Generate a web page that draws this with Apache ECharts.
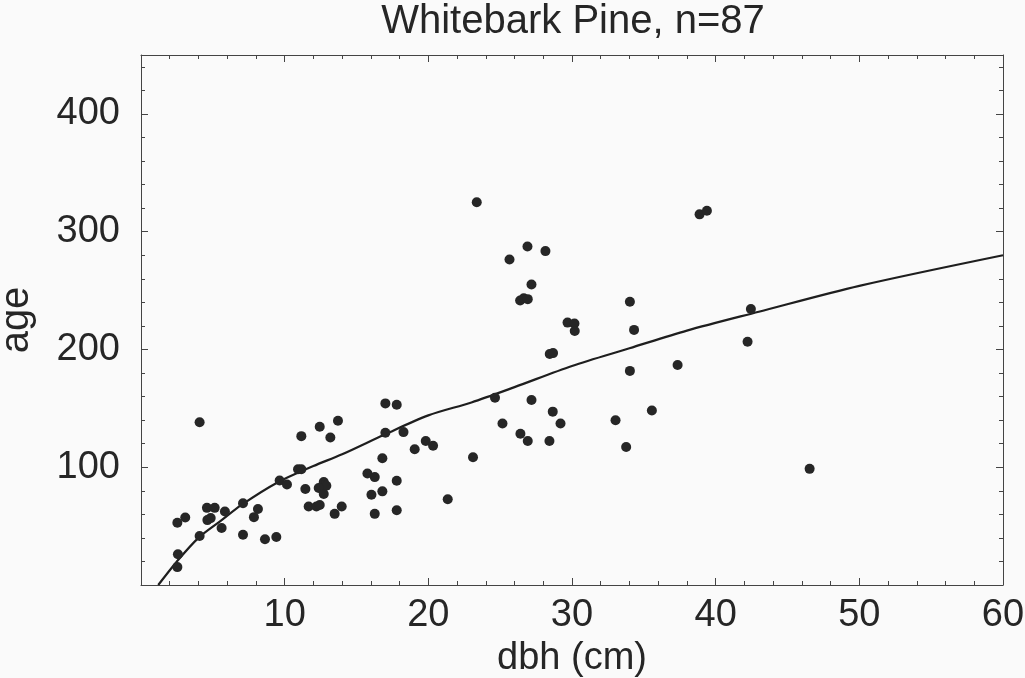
<!DOCTYPE html>
<html>
<head>
<meta charset="utf-8">
<script src="https://cdn.jsdelivr.net/npm/echarts@6/dist/echarts.min.js"></script>
<style>
html,body{margin:0;padding:0;background:#fafafa;}
#chart{width:1025px;height:678px;}
</style>
</head>
<body>
<div id="chart"></div>
<script>
// Observed trees: diameter at breast height (cm) and age (years)
const dbh = [4.08,2.53,3.08,2.57,2.53,4.08,4.59,5.13,4.62,4.85,5.84,5.61,7.10,7.10,8.14,7.86,8.63,9.42,9.65,10.16,
  11.16,10.93,11.16,11.44,12.44,13.18,13.71,11.67,12.21,12.44,12.72,12.67,12.90,12.37,12.72,13.48,13.97,15.76,16.27,16.04,
  16.27,17.01,17.80,17.01,18.27,19.05,19.82,20.33,16.80,16.80,17.80,17.80,21.35,23.11,24.64,25.16,27.18,26.41,26.92,28.43,
  28.66,29.20,33.03,33.77,35.56,23.37,26.90,25.65,28.15,27.18,26.39,26.64,26.92,34.03,29.69,30.17,30.19,34.32,28.45,28.68,
  42.45,42.22,34.03,37.35,38.88,39.39,46.54];
const age = [138.2,52.8,57.3,26.1,15.2,41.6,65.5,65.5,55.1,56.8,62.4,48.4,69.4,42.7,64.6,57.6,38.8,40.8,88.8,85.4,
  126.4,98.3,98.3,81.5,134.3,125.3,139.4,66.6,66.6,68.0,87.4,84.3,84.3,82.3,77.3,60.4,66.6,94.7,91.6,76.7,
  60.4,154.2,153.1,129.3,129.8,115.2,122.2,118.3,107.6,79.5,88.5,63.5,72.8,108.5,159.0,137.1,157.1,128.4,122.2,122.2,
  147.2,137.1,139.9,117.1,148.1,325.0,287.4,276.4,283.5,255.1,241.6,243.5,242.7,240.5,222.8,222.0,215.7,216.6,196.1,196.9,
  234.3,206.5,181.8,186.8,314.7,317.7,98.6];
// Fitted curve
const fitX = [1.2, 2.5, 4, 5.5, 7, 9.5, 12, 14, 17, 20, 23, 26, 30, 34, 38, 43, 50, 60];
const fitY = [0, 20, 40, 54, 68, 87, 101, 111, 128, 144, 155, 168, 186, 201, 216, 232, 254, 280];
const titleText = 'Whitebark Pine, n=87';
const xName = 'dbh (cm)';
const yName = 'age';

const FONT = '"Liberation Sans", Arial, sans-serif';
const INK = '#262626';
const chart = echarts.init(document.getElementById('chart'), null, {renderer: 'canvas'});

function xAx(pos, show) {
  return {
    type: 'value', position: pos, min: 0, max: 60, interval: 10,
    axisLine: {show: true, onZero: false, lineStyle: {color: '#444', width: 1}},
    axisTick: {show: true, inside: true, length: 7, lineStyle: {color: '#444'}},
    minorTick: {show: true, splitNumber: 5, length: 4, lineStyle: {color: '#444'}},
    splitLine: {show: false}, minorSplitLine: {show: false},
    axisLabel: {show: show, margin: 12, color: INK, fontFamily: FONT, fontSize: 38,
      formatter: v => (v === 0 ? '' : String(v))},
    name: show ? xName : '', nameLocation: 'middle', nameGap: 54,
    nameTextStyle: {color: INK, fontFamily: FONT, fontSize: 38}
  };
}
function yAx(pos, major, show) {
  return {
    type: 'value', position: pos, min: 0, max: 450, interval: major ? 100 : 20,
    axisLine: {show: major, onZero: false, lineStyle: {color: '#444', width: 1}},
    axisTick: {show: true, inside: true, length: major ? 7 : 4, lineStyle: {color: '#444'}},
    splitLine: {show: false},
    axisLabel: {show: show, margin: 21, color: INK, fontFamily: FONT, fontSize: 38,
      formatter: v => (v === 0 || v % 100 !== 0 ? '' : String(v))},
    name: show ? yName : '', nameLocation: 'middle', nameGap: 104, nameRotate: 90,
    nameTextStyle: {color: INK, fontFamily: FONT, fontSize: 40}
  };
}

chart.setOption({
  backgroundColor: '#fafafa',
  animation: false,
  title: {
    text: titleText, left: 573, top: 2, textAlign: 'center', padding: 0,
    textStyle: {color: INK, fontFamily: FONT, fontSize: 40, fontWeight: 'normal'}
  },
  grid: {left: 141, right: 22, top: 55, bottom: 93, containLabel: false, outerBoundsMode: 'none'},
  xAxis: [xAx('bottom', true), xAx('top', false)],
  yAxis: [yAx('left', true, true), yAx('left', false, false), yAx('right', true, false), yAx('right', false, false)],
  series: [
    {
      type: 'line', xAxisIndex: 0, yAxisIndex: 0,
      data: fitX.map((x, i) => [x, fitY[i]]),
      smooth: 0.3, showSymbol: false, symbol: 'none',
      lineStyle: {color: '#1e1e1e', width: 2.2}, z: 2
    },
    {
      type: 'scatter', xAxisIndex: 0, yAxisIndex: 0,
      data: dbh.map((x, i) => [x, age[i]]),
      symbol: 'circle', symbolSize: 10,
      itemStyle: {color: '#262626', opacity: 1}, z: 3
    }
  ]
});
</script>
</body>
</html>
